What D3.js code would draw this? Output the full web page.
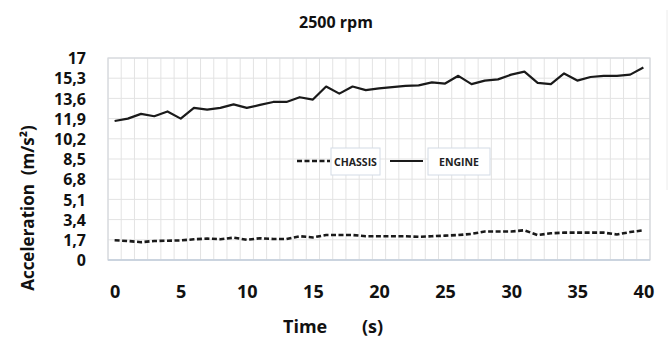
<!DOCTYPE html>
<html><head><meta charset="utf-8">
<script src="https://cdn.jsdelivr.net/npm/d3@7"></script>
<style>body{margin:0;background:#fff}</style>
</head><body>
<svg id="c" width="672" height="342"></svg>
<script>
const time = d3.range(0, 41);
const engine = [11.7,11.9,12.3,12.1,12.5,11.9,12.8,12.65,12.8,13.1,
  12.8,13.05,13.3,13.3,13.7,13.5,14.6,14.0,14.6,14.3,
  14.45,14.55,14.65,14.7,14.95,14.85,15.5,14.8,15.1,15.2,
  15.6,15.85,14.9,14.8,15.7,15.1,15.4,15.5,15.5,15.6,16.2];
const chassis = [1.66,1.6,1.5,1.6,1.62,1.65,1.74,1.8,1.75,1.88,
  1.7,1.83,1.77,1.77,2.0,1.9,2.1,2.1,2.1,2.0,
  2.0,2.0,2.0,1.95,2.0,2.05,2.1,2.2,2.4,2.4,
  2.4,2.5,2.1,2.25,2.3,2.3,2.3,2.3,2.15,2.35,2.5];
const yTicks = [0,1.7,3.4,5.1,6.8,8.5,10.2,11.9,13.6,15.3,17];
const xTicks = [0,5,10,15,20,25,30,35,40];
const seriesNames = ["CHASSIS","ENGINE"];

const svg = d3.select("#c");
const L = 108, R = 650, T = 58, B = 260;
const x = d3.scaleLinear().domain([-0.5, 40.5]).range([L, R]);
const y = d3.scaleLinear().domain([0, 17]).range([B, T]);
const font = "'Open Sans', 'Noto Sans', sans-serif";

// gridlines
const g = svg.append("g");
g.selectAll(".vg").data(d3.range(-0.5, 41, 1)).join("line")
  .attr("x1", d => x(d)).attr("x2", d => x(d)).attr("y1", T).attr("y2", B)
  .attr("stroke", "#e3e3e3").attr("stroke-width", 1);
g.selectAll(".hg").data(yTicks).join("line")
  .attr("x1", L).attr("x2", R).attr("y1", d => y(d)).attr("y2", d => y(d))
  .attr("stroke", "#e3e3e3").attr("stroke-width", 1);
svg.append("rect").attr("x", L).attr("y", T).attr("width", R - L).attr("height", B - T)
  .attr("fill", "none").attr("stroke", "#d6d9de").attr("stroke-width", 1.2);
svg.append("line").attr("x1", L).attr("x2", R).attr("y1", B).attr("y2", B)
  .attr("stroke", "#c4cfdd").attr("stroke-width", 1.5);
svg.append("line").attr("x1", 667).attr("x2", 667).attr("y1", 10).attr("y2", 190)
  .attr("stroke", "#ececec");

// axes
const yAxis = d3.axisLeft(y).tickValues(yTicks).tickSize(0).tickPadding(0)
  .tickFormat(d => String(d).replace(".", ","));
const ya = svg.append("g").attr("transform", `translate(86,0)`).call(yAxis);
ya.select(".domain").remove();
ya.selectAll("text").attr("font-family", font).attr("font-weight", "bold")
  .attr("font-size", 16).attr("fill", "#111").attr("dy", "0.35em");

const xAxis = d3.axisBottom(x).tickValues(xTicks).tickSize(0).tickPadding(0);
const xa = svg.append("g").attr("transform", `translate(0,285)`).call(xAxis);
xa.select(".domain").remove();
xa.selectAll("text").attr("font-family", font).attr("font-weight", "bold")
  .attr("font-size", 18).attr("fill", "#111").attr("dy", "0.71em");

// lines
const line = d3.line().x((d, i) => x(time[i])).y(d => y(d));
svg.append("path").datum(chassis).attr("d", line).attr("fill", "none")
  .attr("stroke", "#1a1a1a").attr("stroke-width", 2.6).attr("stroke-dasharray", "5,2.5");
svg.append("path").datum(engine).attr("d", line).attr("fill", "none")
  .attr("stroke", "#1a1a1a").attr("stroke-width", 2.2).attr("stroke-linejoin", "round");

// legend
const lg = svg.append("g");
lg.append("line").attr("x1", 297).attr("x2", 330).attr("y1", 161).attr("y2", 161)
  .attr("stroke", "#1a1a1a").attr("stroke-width", 2.4).attr("stroke-dasharray", "5,2.5");
lg.append("rect").attr("x", 331).attr("y", 148).attr("width", 49).attr("height", 27)
  .attr("fill", "#fff").attr("stroke", "#d3dbe6").attr("stroke-width", 1);
lg.append("text").attr("x", 355.5).attr("y", 162).attr("text-anchor", "middle")
  .attr("dy", "0.35em").attr("font-family", font).attr("font-weight", "bold")
  .attr("font-size", 10.5).attr("fill", "#222").text(seriesNames[0]);
lg.append("line").attr("x1", 390).attr("x2", 423).attr("y1", 161).attr("y2", 161)
  .attr("stroke", "#1a1a1a").attr("stroke-width", 2.2);
lg.append("rect").attr("x", 428).attr("y", 148).attr("width", 62).attr("height", 27)
  .attr("fill", "#fff").attr("stroke", "#d3dbe6").attr("stroke-width", 1);
lg.append("text").attr("x", 459).attr("y", 162).attr("text-anchor", "middle")
  .attr("dy", "0.35em").attr("font-family", font).attr("font-weight", "bold")
  .attr("font-size", 10.5).attr("fill", "#222").text(seriesNames[1]);

// titles
svg.append("text").attr("x", 336).attr("y", 28).attr("text-anchor", "middle")
  .attr("font-family", font).attr("font-weight", "bold").attr("font-size", 16)
  .attr("fill", "#111").text("2500 rpm");
svg.append("text").attr("transform", "translate(34,208) rotate(-90)")
  .attr("text-anchor", "middle").attr("font-family", font).attr("font-weight", "bold")
  .attr("font-size", 17).attr("fill", "#111").attr("xml:space", "preserve")
  .text("Acceleration  (m/s²)");
svg.append("text").attr("x", 283).attr("y", 333)
  .attr("font-family", font).attr("font-weight", "bold").attr("font-size", 18)
  .attr("fill", "#111").text("Time");
svg.append("text").attr("x", 362).attr("y", 333)
  .attr("font-family", font).attr("font-weight", "bold").attr("font-size", 18)
  .attr("fill", "#111").text("(s)");
</script>
</body></html>
